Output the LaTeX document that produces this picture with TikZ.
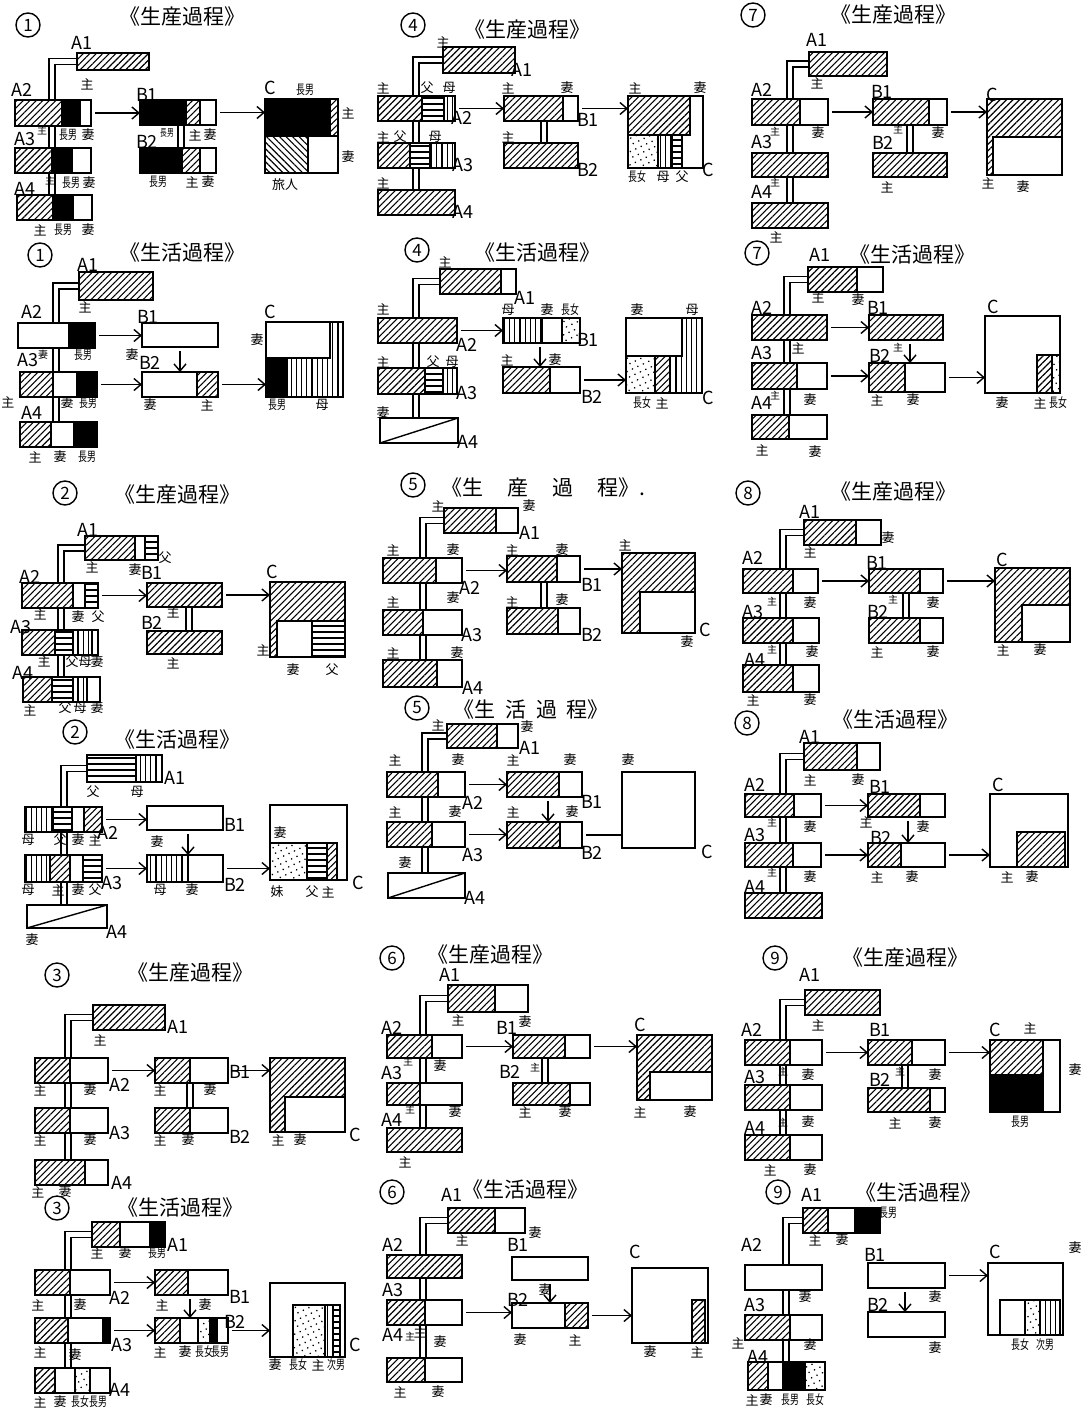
\documentclass[tikz,border=0pt]{standalone}
\usepackage{fontspec}
\setmainfont{Noto Sans CJK JP}
\usepackage{graphicx}
\usetikzlibrary{arrows.meta,patterns.meta,fit,calc,backgrounds}

\newcounter{lab}
% one part of a bar, a bar outline, a label
\newcommand\sg[5]{\path[#5] (#1,#2) rectangle (#3,#4);}
\newcommand\bx[5]{\node[bx, fit={(#2,#3) (#4,#5)}] (#1) {};}
\newcommand\lb[4][lb]{\stepcounter{lab}\node[#1] (t\arabic{lab}) at (#2,#3) {#4};}
\newcommand\tw[1]{\scalebox{0.68}[1]{#1}}
% connectors
\newcommand\ah[2]{\draw[ar] (#1.east) -- (#1.east -| #2.west);}
\newcommand\av[3]{\draw[ar] ($(#1.south west)+(#3,0)$) -- ($(#2.north west)+(#3,0)$);}
\newcommand\dv[3]{\draw[dbl] ($(#1.south west)+(#3,0)$) -- ($(#2.north west)+(#3,0)$);}
\newcommand\dl[3]{\draw[dbl] (#1.west) -| ($(#2.north west)+(#3,0)$);}

\begin{document}
\begin{tikzpicture}[
  x=0.5pt, y=-0.5pt,
  bx/.style={draw, line width=0.9pt, inner sep=0pt, outer sep=0pt},
  ht/.style={draw, line width=0.8pt, preaction={fill=white}, pattern={Lines[angle=45,distance=2.3pt,line width=0.55pt]}},
  hn/.style={draw, line width=0.8pt, preaction={fill=white}, pattern={Lines[angle=-45,distance=2.3pt,line width=0.55pt]}},
  hl/.style={draw, line width=0.8pt, preaction={fill=white}, pattern={Lines[angle=0,distance=3pt,line width=0.55pt]}},
  vl/.style={draw, line width=0.8pt, preaction={fill=white}, pattern={Lines[angle=90,distance=2.6pt,line width=0.55pt]}},
  dt/.style={draw, line width=0.8pt, preaction={fill=white}, pattern={Dots[radius=0.45pt,distance=3pt,angle=25]}},
  bk/.style={draw, line width=0.8pt, fill=black},
  wt/.style={draw, line width=0.8pt, fill=white},
  lb/.style={inner sep=0pt, font=\fontsize{6.5}{7}\selectfont},
  ls/.style={inner sep=0pt, font=\fontsize{5}{5}\selectfont},
  nm/.style={inner sep=0pt, font=\fontsize{9}{9}\selectfont},
  tt/.style={inner sep=0pt, font=\fontsize{10.5}{11}\selectfont},
  cn/.style={draw, circle, line width=0.7pt, minimum size=12pt, inner sep=0pt, font=\fontsize{8.5}{9}\selectfont},
  dbl/.style={double, double distance=2.4pt, line width=0.6pt},
  ar/.style={-{Straight Barb[length=3.5pt,width=6pt]}, line width=0.7pt, shorten <=2pt},
  dg/.style={line width=0.7pt},
]
\useasboundingbox (0,0) rectangle (1091,1412);

% ---- (1) production
\node[cn] (p1n) at (28,25) {1};
\node[tt] (p1t) at (182,17) {《生産過程》};
\sg{77}{53}{149}{70}{ht} \bx{p1a1}{77}{53}{149}{70}
\sg{15}{100}{62}{126}{ht} \sg{62}{100}{80}{126}{bk} \sg{80}{100}{91}{126}{wt} \bx{p1a2}{15}{100}{91}{126}
\sg{15}{148}{52}{173}{ht} \sg{52}{148}{72}{173}{bk} \sg{72}{148}{91}{173}{wt} \bx{p1a3}{15}{148}{91}{173}
\sg{17}{195}{53}{220}{ht} \sg{53}{195}{73}{220}{bk} \sg{73}{195}{92}{220}{wt} \bx{p1a4}{17}{195}{92}{220}
\sg{140}{100}{186}{125}{bk} \sg{186}{100}{200}{125}{ht} \sg{200}{100}{216}{125}{wt} \bx{p1b1}{140}{100}{216}{125}
\sg{140}{148}{182}{173}{bk} \sg{182}{148}{200}{173}{ht} \sg{200}{148}{216}{173}{wt} \bx{p1b2}{140}{148}{216}{173}
\sg{265}{99}{330}{136}{bk} \sg{330}{99}{338}{136}{ht} \sg{265}{136}{308}{173}{hn} \sg{308}{136}{338}{173}{wt} \bx{p1c}{265}{99}{338}{173}
\lb[nm]{82}{43}{A1} \lb{87}{84}{主} \lb[nm]{22}{90}{A2} \lb[ls]{42}{131}{主} \lb{68}{135}{\tw{長男}} \lb{88}{135}{妻}
\lb[nm]{25}{139}{A3} \lb[ls]{50}{181}{主} \lb{71}{183}{\tw{長男}} \lb{89}{183}{妻} \lb[nm]{25}{189}{A4}
\lb{40}{230}{主} \lb{63}{230}{\tw{長男}} \lb{88}{230}{妻}
\lb[nm]{147}{95}{B1} \lb[nm]{147}{142}{B2} \lb[ls]{167}{133}{\tw{長男}} \lb{195}{135}{主} \lb{210}{135}{妻}
\lb{158}{182}{\tw{長男}} \lb{192}{182}{主} \lb{208}{182}{妻}
\lb[nm]{270}{88}{C} \lb{305}{90}{\tw{長男}} \lb{348}{113}{主} \lb{348}{157}{妻} \lb{285}{185}{旅人}
\ah{p1a2}{p1b1} \ah{p1b1}{p1c}

% ---- (1) living
\node[cn] (q1n) at (40,255) {1};
\node[tt] (q1t) at (182,253) {《生活過程》};
\sg{79}{272}{153}{300}{ht} \bx{q1a1}{79}{272}{153}{300}
\sg{18}{323}{69}{348}{wt} \sg{69}{323}{95}{348}{bk} \bx{q1a2}{18}{323}{95}{348}
\sg{20}{372}{53}{397}{ht} \sg{53}{372}{77}{397}{wt} \sg{77}{372}{97}{397}{bk} \bx{q1a3}{20}{372}{97}{397}
\sg{20}{422}{51}{447}{ht} \sg{51}{422}{74}{447}{wt} \sg{74}{422}{97}{447}{bk} \bx{q1a4}{20}{422}{97}{447}
\sg{142}{323}{218}{347}{wt} \bx{q1b1}{142}{323}{218}{347}
\sg{142}{372}{197}{397}{wt} \sg{197}{372}{218}{397}{ht} \bx{q1b2}{142}{372}{218}{397}
\sg{266}{322}{343}{397}{vl} \sg{266}{322}{330}{358}{wt} \sg{266}{358}{287}{397}{bk} \bx{q1c}{266}{322}{343}{397}
\lb[nm]{88}{265}{A1} \lb{85}{307}{主} \lb[nm]{32}{312}{A2} \lb{83}{355}{\tw{長男}} \lb[nm]{28}{360}{A3} \lb[ls]{43}{355}{妻}
\lb{8}{402}{主} \lb{67}{403}{妻} \lb{88}{403}{\tw{長男}} \lb[nm]{32}{413}{A4}
\lb{35}{457}{主} \lb{60}{457}{妻} \lb{87}{457}{\tw{長男}}
\lb[nm]{148}{317}{B1} \lb{132}{355}{妻} \lb[nm]{150}{363}{B2} \lb{150}{405}{妻} \lb{207}{405}{主}
\lb[nm]{270}{312}{C} \lb{257}{340}{妻} \lb{277}{405}{\tw{長男}} \lb{322}{405}{母}
\ah{q1a2}{q1b1} \av{q1b1}{q1b2}{38} \ah{q1a3}{q1b2} \ah{q1b2}{q1c}

% ---- (4) production
\node[cn] (p4n) at (413,25) {4};
\node[tt] (p4t) at (527,30) {《生産過程》};
\sg{443}{47}{515}{73}{ht} \bx{p4a1}{443}{47}{515}{73}
\sg{378}{96}{422}{121}{ht} \sg{422}{96}{444}{121}{hl} \sg{444}{96}{455}{121}{vl} \bx{p4a2}{378}{96}{455}{121}
\sg{378}{143}{410}{168}{ht} \sg{410}{143}{430}{168}{hl} \sg{430}{143}{455}{168}{vl} \bx{p4a3}{378}{143}{455}{168}
\sg{378}{190}{455}{215}{ht} \bx{p4a4}{378}{190}{455}{215}
\sg{504}{96}{563}{121}{ht} \sg{563}{96}{578}{121}{wt} \bx{p4b1}{504}{96}{578}{121}
\sg{504}{143}{578}{168}{ht} \bx{p4b2}{504}{143}{578}{168}
\sg{628}{96}{703}{168}{wt} \sg{628}{96}{690}{135}{ht} \sg{628}{135}{658}{168}{dt} \sg{658}{135}{672}{168}{vl} \sg{672}{135}{682}{168}{hl} \bx{p4c}{628}{96}{703}{168}
\lb{443}{42}{主} \lb[nm]{522}{70}{A1} \lb{383}{88}{主} \lb{427}{88}{父} \lb{449}{88}{母} \lb[nm]{462}{118}{A2}
\lb{383}{137}{主} \lb{400}{137}{父} \lb{435}{137}{母} \lb[nm]{463}{165}{A3} \lb{383}{183}{主} \lb[nm]{463}{212}{A4}
\lb{508}{88}{主} \lb{567}{88}{妻} \lb[nm]{588}{120}{B1} \lb{508}{137}{主} \lb[nm]{588}{170}{B2}
\lb{635}{88}{主} \lb{700}{88}{妻} \lb[nm]{708}{170}{C} \lb{637}{177}{\tw{長女}} \lb{663}{177}{母} \lb{682}{177}{父}
\ah{p4a2}{p4b1} \ah{p4b1}{p4c}

% ---- (4) living
\node[cn] (q4n) at (417,250) {4};
\node[tt] (q4t) at (537,253) {《生活過程》};
\sg{440}{269}{501}{294}{ht} \sg{501}{269}{516}{294}{wt} \bx{q4a1}{440}{269}{516}{294}
\sg{378}{318}{457}{343}{ht} \bx{q4a2}{378}{318}{457}{343}
\sg{378}{368}{425}{394}{ht} \sg{425}{368}{443}{394}{hl} \sg{443}{368}{457}{394}{vl} \bx{q4a3}{378}{368}{457}{394}
\sg{380}{418}{458}{443}{wt} \bx{q4a4}{380}{418}{458}{443}
\draw[dg] (q4a4.south west) -- (q4a4.north east);
\sg{503}{318}{542}{343}{vl} \sg{542}{318}{562}{343}{wt} \sg{562}{318}{580}{343}{dt} \bx{q4b1}{503}{318}{580}{343}
\sg{503}{367}{550}{393}{ht} \sg{550}{367}{580}{393}{wt} \bx{q4b2}{503}{367}{580}{393}
\sg{626}{318}{702}{393}{vl} \sg{626}{318}{682}{356}{wt} \sg{626}{356}{655}{393}{dt} \sg{655}{356}{670}{393}{ht} \bx{q4c}{626}{318}{702}{393}
\lb{445}{262}{主} \lb[nm]{525}{298}{A1} \lb{383}{309}{主} \lb[nm]{467}{345}{A2}
\lb{508}{310}{母} \lb{547}{310}{妻} \lb{570}{310}{\tw{長女}} \lb[nm]{588}{340}{B1} \lb{507}{360}{主} \lb{555}{360}{妻} \lb[nm]{592}{397}{B2}
\lb{383}{362}{主} \lb{433}{362}{父} \lb{452}{362}{母} \lb[nm]{467}{393}{A3} \lb{383}{413}{妻} \lb[nm]{468}{442}{A4}
\lb{637}{310}{妻} \lb{692}{310}{母} \lb[nm]{708}{398}{C} \lb{642}{403}{\tw{長女}} \lb{662}{403}{主}
\ah{q4a2}{q4b1} \av{q4b1}{q4b2}{37} \ah{q4b2}{q4c}

% ---- (7) production
\node[cn] (p7n) at (753,15) {7};
\node[tt] (p7t) at (893,15) {《生産過程》};
\sg{809}{52}{887}{76}{ht} \bx{p7a1}{809}{52}{887}{76}
\sg{752}{99}{800}{125}{ht} \sg{800}{99}{828}{125}{wt} \bx{p7a2}{752}{99}{828}{125}
\sg{752}{153}{828}{177}{ht} \bx{p7a3}{752}{153}{828}{177}
\sg{752}{203}{828}{228}{ht} \bx{p7a4}{752}{203}{828}{228}
\sg{873}{99}{929}{125}{ht} \sg{929}{99}{947}{125}{wt} \bx{p7b1}{873}{99}{947}{125}
\sg{873}{153}{947}{177}{ht} \bx{p7b2}{873}{153}{947}{177}
\sg{987}{99}{1062}{175}{ht} \sg{993}{137}{1062}{175}{wt} \bx{p7c}{987}{99}{1062}{175}
\lb[nm]{817}{40}{A1} \lb{817}{83}{主} \lb[nm]{762}{90}{A2} \lb[ls]{775}{132}{主} \lb{818}{133}{妻} \lb[nm]{762}{142}{A3}
\lb[ls]{775}{183}{主} \lb[nm]{762}{192}{A4} \lb{776}{237}{主}
\lb[nm]{882}{92}{B1} \lb[ls]{898}{130}{主} \lb{938}{133}{妻} \lb[nm]{883}{143}{B2} \lb{887}{187}{主}
\lb[nm]{992}{95}{C} \lb{988}{183}{主} \lb{1023}{187}{妻}
\ah{p7a2}{p7b1} \ah{p7b1}{p7c}

% ---- (7) living
\node[cn] (q7n) at (757,253) {7};
\node[tt] (q7t) at (912,255) {《生活過程》};
\sg{808}{267}{857}{292}{ht} \sg{857}{267}{883}{292}{wt} \bx{q7a1}{808}{267}{883}{292}
\sg{752}{315}{827}{340}{ht} \bx{q7a2}{752}{315}{827}{340}
\sg{752}{363}{797}{389}{ht} \sg{797}{363}{827}{389}{wt} \bx{q7a3}{752}{363}{827}{389}
\sg{752}{415}{789}{439}{ht} \sg{789}{415}{827}{439}{wt} \bx{q7a4}{752}{415}{827}{439}
\sg{869}{315}{943}{340}{ht} \bx{q7b1}{869}{315}{943}{340}
\sg{869}{363}{905}{392}{ht} \sg{905}{363}{945}{392}{wt} \bx{q7b2}{869}{363}{945}{392}
\sg{985}{316}{1060}{393}{wt} \sg{1037}{355}{1052}{393}{ht} \sg{1052}{355}{1060}{393}{dt} \bx{q7c}{985}{316}{1060}{393}
\lb[nm]{820}{255}{A1} \lb{818}{297}{主} \lb{858}{300}{妻} \lb[nm]{762}{308}{A2}
\lb[nm]{762}{353}{A3} \lb{798}{348}{主} \lb[nm]{762}{403}{A4} \lb[ls]{775}{396}{主} \lb{810}{400}{妻} \lb{762}{450}{主} \lb{815}{452}{妻}
\lb[nm]{878}{308}{B1} \lb[nm]{880}{356}{B2} \lb[ls]{898}{348}{主} \lb{877}{400}{主} \lb{913}{400}{妻}
\lb[nm]{993}{307}{C} \lb{1002}{403}{妻} \lb{1040}{403}{主} \lb{1058}{403}{\tw{長女}}
\ah{q7a2}{q7b1} \av{q7b1}{q7b2}{41} \ah{q7a3}{q7b2} \ah{q7b2}{q7c}

% ---- (2) production
\node[cn] (p2n) at (65,493) {2};
\node[tt] (p2t) at (177,495) {《生産過程》};
\sg{85}{536}{135}{560}{ht} \sg{135}{536}{145}{560}{wt} \sg{145}{536}{158}{560}{hl} \bx{p2a1}{85}{536}{158}{560}
\sg{22}{583}{73}{608}{ht} \sg{73}{583}{85}{608}{wt} \sg{85}{583}{98}{608}{hl} \bx{p2a2}{22}{583}{98}{608}
\sg{22}{630}{55}{655}{ht} \sg{55}{630}{73}{655}{hl} \sg{73}{630}{92}{655}{vl} \sg{92}{630}{98}{655}{wt} \bx{p2a3}{22}{630}{98}{655}
\sg{23}{677}{52}{702}{ht} \sg{52}{677}{73}{702}{hl} \sg{73}{677}{87}{702}{vl} \sg{87}{677}{100}{702}{wt} \bx{p2a4}{23}{677}{100}{702}
\sg{147}{583}{222}{607}{ht} \bx{p2b1}{147}{583}{222}{607}
\sg{147}{631}{222}{654}{ht} \bx{p2b2}{147}{631}{222}{654}
\sg{270}{582}{345}{657}{ht} \sg{277}{621}{312}{657}{wt} \sg{312}{621}{345}{657}{hl} \bx{p2c}{270}{582}{345}{657}
\lb[nm]{88}{530}{A1} \lb{92}{567}{主} \lb{135}{570}{妻} \lb{165}{558}{父} \lb[nm]{30}{577}{A2}
\lb{40}{614}{主} \lb{78}{617}{妻} \lb{98}{617}{父} \lb[nm]{21}{627}{A3}
\lb{44}{661}{主} \lb{72}{662}{父} \lb{85}{662}{母} \lb{97}{662}{妻} \lb[nm]{23}{673}{A4}
\lb{30}{710}{主} \lb{65}{708}{父} \lb{80}{708}{母} \lb{97}{708}{妻}
\lb[nm]{152}{573}{B1} \lb[nm]{152}{623}{B2} \lb{173}{612}{主} \lb{173}{663}{主}
\lb[nm]{272}{572}{C} \lb{263}{650}{主} \lb{293}{670}{妻} \lb{332}{670}{父}
\ah{p2a2}{p2b1} \ah{p2b1}{p2c}

% ---- (2) living
\node[cn] (q2n) at (75,732) {2};
\node[tt] (q2t) at (177,740) {《生活過程》};
\sg{87}{755}{136}{782}{hl} \sg{136}{755}{162}{782}{vl} \bx{q2a1}{87}{755}{162}{782}
\sg{25}{807}{53}{832}{vl} \sg{53}{807}{72}{832}{hl} \sg{72}{807}{84}{832}{wt} \sg{84}{807}{102}{832}{ht} \bx{q2a2}{25}{807}{102}{832}
\sg{25}{855}{50}{882}{vl} \sg{50}{855}{70}{882}{ht} \sg{70}{855}{83}{882}{wt} \sg{83}{855}{102}{882}{hl} \bx{q2a3}{25}{855}{102}{882}
\sg{27}{905}{107}{928}{wt} \bx{q2a4}{27}{905}{107}{928}
\draw[dg] (q2a4.south west) -- (q2a4.north east);
\sg{147}{806}{223}{830}{wt} \bx{q2b1}{147}{806}{223}{830}
\sg{147}{855}{188}{882}{vl} \sg{188}{855}{223}{882}{wt} \bx{q2b2}{147}{855}{223}{882}
\sg{270}{805}{347}{880}{wt} \sg{270}{843}{307}{880}{dt} \sg{307}{843}{327}{880}{hl} \sg{327}{843}{337}{880}{ht} \bx{q2c}{270}{805}{347}{880}
\lb[nm]{175}{778}{A1} \lb{93}{792}{父} \lb{137}{792}{母} \lb[nm]{108}{833}{A2}
\lb{28}{840}{母} \lb{60}{840}{父} \lb{78}{840}{妻} \lb{95}{840}{主} \lb[nm]{112}{883}{A3}
\lb{28}{890}{母} \lb{58}{890}{主} \lb{78}{890}{妻} \lb{95}{890}{父} \lb[nm]{117}{932}{A4} \lb{32}{940}{妻}
\lb[nm]{235}{825}{B1} \lb{157}{842}{妻} \lb[nm]{235}{885}{B2} \lb{160}{890}{母} \lb{192}{890}{妻}
\lb{280}{833}{妻} \lb[nm]{358}{883}{C} \lb{277}{892}{妹} \lb{312}{892}{父} \lb{328}{892}{主}
\ah{q2a2}{q2b1} \av{q2b1}{q2b2}{41} \ah{q2a3}{q2b2} \ah{q2b2}{q2c}

% ---- (5) production
\node[cn] (p5n) at (413,485) {5};
\node[tt] (p5t) at (543,488) {《生\hspace{12pt}産\hspace{12pt}過\hspace{12pt}程》.};
\sg{444}{508}{496}{533}{ht} \sg{496}{508}{518}{533}{wt} \bx{p5a1}{444}{508}{518}{533}
\sg{383}{558}{436}{583}{ht} \sg{436}{558}{462}{583}{wt} \bx{p5a2}{383}{558}{462}{583}
\sg{383}{610}{423}{635}{ht} \sg{423}{610}{462}{635}{wt} \bx{p5a3}{383}{610}{462}{635}
\sg{383}{660}{437}{687}{ht} \sg{437}{660}{462}{687}{wt} \bx{p5a4}{383}{660}{462}{687}
\sg{507}{556}{557}{582}{ht} \sg{557}{556}{580}{582}{wt} \bx{p5b1}{507}{556}{580}{582}
\sg{507}{608}{558}{634}{ht} \sg{558}{608}{580}{634}{wt} \bx{p5b2}{507}{608}{580}{634}
\sg{622}{553}{695}{633}{ht} \sg{640}{592}{695}{633}{wt} \bx{p5c}{622}{553}{695}{633}
\lb{438}{506}{主} \lb{529}{506}{妻} \lb[nm]{530}{533}{A1} \lb{393}{550}{主} \lb{453}{550}{妻} \lb[nm]{470}{588}{A2}
\lb{393}{602}{主} \lb{453}{598}{妻} \lb[nm]{472}{635}{A3} \lb{393}{653}{主} \lb{457}{653}{妻} \lb[nm]{473}{688}{A4}
\lb{512}{550}{主} \lb{562}{550}{妻} \lb[nm]{592}{585}{B1} \lb{512}{602}{主} \lb{562}{600}{妻} \lb[nm]{592}{635}{B2}
\lb{625}{545}{主} \lb[nm]{705}{630}{C} \lb{687}{642}{妻}
\ah{p5a2}{p5b1} \ah{p5b1}{p5c}

% ---- (5) living
\node[cn] (q5n) at (417,708) {5};
\node[tt] (q5t) at (531,710) {《生\hspace{5pt}活\hspace{5pt}過\hspace{5pt}程》};
\sg{447}{724}{497}{748}{ht} \sg{497}{724}{518}{748}{wt} \bx{q5a1}{447}{724}{518}{748}
\sg{387}{772}{438}{797}{ht} \sg{438}{772}{465}{797}{wt} \bx{q5a2}{387}{772}{465}{797}
\sg{387}{822}{432}{847}{ht} \sg{432}{822}{465}{847}{wt} \bx{q5a3}{387}{822}{465}{847}
\sg{388}{873}{465}{898}{wt} \bx{q5a4}{388}{873}{465}{898}
\draw[dg] (q5a4.south west) -- (q5a4.north east);
\sg{507}{772}{559}{797}{ht} \sg{559}{772}{582}{797}{wt} \bx{q5b1}{507}{772}{582}{797}
\sg{507}{822}{560}{848}{ht} \sg{560}{822}{582}{848}{wt} \bx{q5b2}{507}{822}{582}{848}
\sg{622}{772}{695}{848}{wt} \bx{q5c}{622}{772}{695}{848}
\lb{438}{725}{主} \lb{527}{727}{妻} \lb[nm]{530}{748}{A1} \lb{395}{760}{主} \lb{458}{760}{妻} \lb[nm]{473}{803}{A2}
\lb{395}{812}{主} \lb{455}{812}{妻} \lb[nm]{473}{855}{A3} \lb{405}{863}{妻} \lb[nm]{475}{898}{A4}
\lb{513}{760}{主} \lb{570}{760}{妻} \lb[nm]{592}{802}{B1} \lb{513}{812}{主} \lb{572}{812}{妻} \lb[nm]{592}{853}{B2}
\lb{628}{760}{妻} \lb[nm]{707}{852}{C}
\ah{q5a2}{q5b1} \av{q5b1}{q5b2}{41} \ah{q5a3}{q5b2}
\draw[line width=0.7pt, shorten <=2pt] (q5b2.east) -- (q5b2.east -| q5c.west);

% ---- (8) production
\node[cn] (p8n) at (748,493) {8};
\node[tt] (p8t) at (893,492) {《生産過程》};
\sg{804}{520}{856}{545}{ht} \sg{856}{520}{881}{545}{wt} \bx{p8a1}{804}{520}{881}{545}
\sg{743}{569}{793}{593}{ht} \sg{793}{569}{818}{593}{wt} \bx{p8a2}{743}{569}{818}{593}
\sg{743}{618}{793}{643}{ht} \sg{793}{618}{819}{643}{wt} \bx{p8a3}{743}{618}{819}{643}
\sg{743}{665}{793}{692}{ht} \sg{793}{665}{819}{692}{wt} \bx{p8a4}{743}{665}{819}{692}
\sg{869}{569}{920}{593}{ht} \sg{920}{569}{943}{593}{wt} \bx{p8b1}{869}{569}{943}{593}
\sg{869}{618}{920}{643}{ht} \sg{920}{618}{943}{643}{wt} \bx{p8b2}{869}{618}{943}{643}
\sg{995}{568}{1070}{642}{ht} \sg{1022}{605}{1070}{642}{wt} \bx{p8c}{995}{568}{1070}{642}
\lb[nm]{810}{512}{A1} \lb{810}{552}{主} \lb{888}{538}{妻} \lb[nm]{753}{558}{A2} \lb[ls]{772}{602}{主} \lb{810}{603}{妻}
\lb[nm]{753}{612}{A3} \lb[ls]{772}{650}{主} \lb{812}{652}{妻} \lb[nm]{755}{660}{A4} \lb{753}{700}{主} \lb{810}{700}{妻}
\lb[nm]{877}{563}{B1} \lb[ls]{893}{600}{主} \lb{933}{603}{妻} \lb[nm]{878}{612}{B2} \lb{877}{652}{主} \lb{933}{652}{妻}
\lb[nm]{1002}{560}{C} \lb{1003}{650}{主} \lb{1040}{650}{妻}
\ah{p8a2}{p8b1} \ah{p8b1}{p8c}

% ---- (8) living
\node[cn] (q8n) at (747,723) {8};
\node[tt] (q8t) at (895,720) {《生活過程》};
\sg{804}{743}{857}{770}{ht} \sg{857}{743}{880}{770}{wt} \bx{q8a1}{804}{743}{880}{770}
\sg{745}{794}{794}{817}{ht} \sg{794}{794}{821}{817}{wt} \bx{q8a2}{745}{794}{821}{817}
\sg{745}{843}{793}{867}{ht} \sg{793}{843}{821}{867}{wt} \bx{q8a3}{745}{843}{821}{867}
\sg{745}{893}{822}{918}{ht} \bx{q8a4}{745}{893}{822}{918}
\sg{868}{794}{920}{817}{ht} \sg{920}{794}{945}{817}{wt} \bx{q8b1}{868}{794}{945}{817}
\sg{868}{843}{901}{867}{ht} \sg{901}{843}{945}{867}{wt} \bx{q8b2}{868}{843}{945}{867}
\sg{990}{794}{1068}{867}{wt} \sg{1017}{832}{1065}{867}{ht} \bx{q8c}{990}{794}{1068}{867}
\lb[nm]{810}{737}{A1} \lb{810}{780}{主} \lb{858}{780}{妻} \lb[nm]{755}{785}{A2} \lb[ls]{772}{823}{主} \lb{810}{827}{妻}
\lb[nm]{755}{835}{A3} \lb[ls]{772}{873}{主} \lb{810}{877}{妻} \lb[nm]{755}{887}{A4}
\lb[nm]{880}{787}{B1} \lb{866}{822}{主} \lb{923}{827}{妻} \lb[nm]{881}{838}{B2} \lb{877}{877}{主} \lb{912}{877}{妻}
\lb[nm]{998}{785}{C} \lb{1007}{877}{主} \lb{1032}{877}{妻}
\ah{q8a2}{q8b1} \av{q8b1}{q8b2}{40} \ah{q8a3}{q8b2} \ah{q8b2}{q8c}

% ---- (3) production
\node[cn] (p3n) at (57,975) {3};
\node[tt] (p3t) at (190,973) {《生産過程》};
\sg{93}{1005}{165}{1030}{ht} \bx{p3a1}{93}{1005}{165}{1030}
\sg{35}{1058}{70}{1083}{ht} \sg{70}{1058}{108}{1083}{wt} \bx{p3a2}{35}{1058}{108}{1083}
\sg{35}{1108}{70}{1133}{ht} \sg{70}{1108}{108}{1133}{wt} \bx{p3a3}{35}{1108}{108}{1133}
\sg{35}{1160}{85}{1185}{ht} \sg{85}{1160}{108}{1185}{wt} \bx{p3a4}{35}{1160}{108}{1185}
\sg{155}{1058}{190}{1083}{ht} \sg{190}{1058}{228}{1083}{wt} \bx{p3b1}{155}{1058}{228}{1083}
\sg{155}{1108}{190}{1133}{ht} \sg{190}{1108}{228}{1133}{wt} \bx{p3b2}{155}{1108}{228}{1133}
\sg{270}{1058}{345}{1132}{ht} \sg{285}{1097}{345}{1132}{wt} \bx{p3c}{270}{1058}{345}{1132}
\lb[nm]{178}{1027}{A1} \lb{100}{1040}{主} \lb{40}{1090}{主} \lb{90}{1090}{妻} \lb[nm]{120}{1085}{A2}
\lb{40}{1140}{主} \lb{90}{1140}{妻} \lb[nm]{120}{1133}{A3} \lb{38}{1192}{主} \lb{65}{1192}{妻} \lb[nm]{122}{1183}{A4}
\lb{160}{1090}{主} \lb{210}{1090}{妻} \lb[nm]{240}{1072}{B1} \lb{160}{1140}{主} \lb{188}{1140}{妻} \lb[nm]{240}{1137}{B2}
\lb{278}{1140}{主} \lb{300}{1140}{妻} \lb[nm]{355}{1135}{C}
\ah{p3a2}{p3b1} \ah{p3b1}{p3c}

% ---- (3) living
\node[cn] (q3n) at (57,1208) {3};
\node[tt] (q3t) at (180,1208) {《生活過程》};
\sg{92}{1222}{120}{1247}{ht} \sg{120}{1222}{150}{1247}{wt} \sg{150}{1222}{165}{1247}{bk} \bx{q3a1}{92}{1222}{165}{1247}
\sg{35}{1270}{70}{1295}{ht} \sg{70}{1270}{110}{1295}{wt} \bx{q3a2}{35}{1270}{110}{1295}
\sg{35}{1318}{68}{1343}{ht} \sg{68}{1318}{103}{1343}{wt} \sg{103}{1318}{110}{1343}{bk} \bx{q3a3}{35}{1318}{110}{1343}
\sg{35}{1368}{55}{1393}{ht} \sg{55}{1368}{75}{1393}{wt} \sg{75}{1368}{90}{1393}{dt} \sg{90}{1368}{110}{1393}{wt} \bx{q3a4}{35}{1368}{110}{1393}
\sg{155}{1270}{188}{1295}{ht} \sg{188}{1270}{228}{1295}{wt} \bx{q3b1}{155}{1270}{228}{1295}
\sg{155}{1318}{180}{1343}{ht} \sg{180}{1318}{198}{1343}{wt} \sg{198}{1318}{210}{1343}{dt} \sg{210}{1318}{217}{1343}{bk} \sg{217}{1318}{228}{1343}{wt} \bx{q3b2}{155}{1318}{228}{1343}
\sg{270}{1283}{345}{1357}{wt} \sg{293}{1305}{325}{1357}{dt} \sg{325}{1305}{333}{1357}{vl} \sg{333}{1305}{340}{1357}{hl} \bx{q3c}{270}{1283}{345}{1357}
\lb[nm]{178}{1245}{A1} \lb{97}{1253}{主} \lb{125}{1253}{妻} \lb{157}{1253}{\tw{長男}}
\lb{38}{1305}{主} \lb{80}{1305}{妻} \lb[nm]{120}{1298}{A2} \lb{40}{1352}{主} \lb{75}{1355}{妻} \lb[nm]{122}{1345}{A3}
\lb[nm]{120}{1390}{A4} \lb{40}{1402}{主} \lb{60}{1402}{妻} \lb{80}{1402}{\tw{長女}} \lb{98}{1402}{\tw{長男}}
\lb{162}{1305}{主} \lb{205}{1305}{妻} \lb[nm]{240}{1297}{B1} \lb[nm]{235}{1322}{B2}
\lb{160}{1352}{主} \lb{185}{1352}{妻} \lb{204}{1352}{\tw{長女}} \lb{220}{1352}{\tw{長男}}
\lb{275}{1365}{妻} \lb{298}{1365}{\tw{長女}} \lb{318}{1365}{主} \lb{336}{1365}{\tw{次男}} \lb[nm]{355}{1345}{C}
\ah{q3a2}{q3b1} \av{q3b1}{q3b2}{35} \ah{q3a3}{q3b2} \ah{q3b2}{q3c}

% ---- (6) production
\node[cn] (p6n) at (392,958) {6};
\node[tt] (p6t) at (490,955) {《生産過程》};
\sg{448}{985}{495}{1012}{ht} \sg{495}{985}{528}{1012}{wt} \bx{p6a1}{448}{985}{528}{1012}
\sg{387}{1035}{432}{1058}{ht} \sg{432}{1035}{462}{1058}{wt} \bx{p6a2}{387}{1035}{462}{1058}
\sg{387}{1083}{420}{1105}{ht} \sg{420}{1083}{462}{1105}{wt} \bx{p6a3}{387}{1083}{462}{1105}
\sg{387}{1128}{462}{1152}{ht} \bx{p6a4}{387}{1128}{462}{1152}
\sg{513}{1035}{565}{1058}{ht} \sg{565}{1035}{590}{1058}{wt} \bx{p6b1}{513}{1035}{590}{1058}
\sg{513}{1083}{570}{1105}{ht} \sg{570}{1083}{590}{1105}{wt} \bx{p6b2}{513}{1083}{590}{1105}
\sg{637}{1035}{712}{1100}{ht} \sg{650}{1072}{712}{1100}{wt} \bx{p6c}{637}{1035}{712}{1100}
\lb[nm]{450}{975}{A1} \lb{458}{1020}{主} \lb[nm]{392}{1028}{A2} \lb[ls]{408}{1062}{主} \lb{440}{1066}{妻}
\lb[nm]{392}{1073}{A3} \lb[ls]{410}{1110}{主} \lb{455}{1112}{妻} \lb[nm]{392}{1120}{A4} \lb{405}{1162}{主}
\lb[nm]{507}{1028}{B1} \lb{525}{1022}{妻} \lb[nm]{510}{1072}{B2} \lb[ls]{535}{1068}{主} \lb{525}{1112}{主} \lb{565}{1112}{妻}
\lb[nm]{640}{1025}{C} \lb{640}{1112}{主} \lb{690}{1112}{妻}
\ah{p6a2}{p6b1} \ah{p6b1}{p6c}

% ---- (6) living
\node[cn] (q6n) at (392,1192) {6};
\node[tt] (q6t) at (525,1190) {《生活過程》};
\sg{448}{1208}{495}{1233}{ht} \sg{495}{1208}{525}{1233}{wt} \bx{q6a1}{448}{1208}{525}{1233}
\sg{387}{1255}{462}{1278}{ht} \bx{q6a2}{387}{1255}{462}{1278}
\sg{387}{1300}{425}{1325}{ht} \sg{425}{1300}{462}{1325}{wt} \bx{q6a3}{387}{1300}{462}{1325}
\sg{387}{1358}{425}{1382}{ht} \sg{425}{1358}{462}{1382}{wt} \bx{q6a4}{387}{1358}{462}{1382}
\sg{512}{1257}{588}{1280}{wt} \bx{q6b1}{512}{1257}{588}{1280}
\sg{512}{1303}{565}{1328}{wt} \sg{565}{1303}{588}{1328}{ht} \bx{q6b2}{512}{1303}{588}{1328}
\sg{632}{1268}{708}{1343}{wt} \sg{692}{1300}{705}{1343}{ht} \bx{q6c}{632}{1268}{708}{1343}
\lb[nm]{452}{1195}{A1} \lb{462}{1240}{主} \lb{535}{1233}{妻} \lb[nm]{393}{1245}{A2} \lb[nm]{393}{1290}{A3} \lb{420}{1332}{主}
\lb[nm]{393}{1335}{A4} \lb[ls]{410}{1337}{主} \lb{440}{1342}{妻} \lb{400}{1392}{主} \lb{438}{1392}{妻}
\lb[nm]{518}{1245}{B1} \lb{545}{1290}{妻} \lb[nm]{518}{1300}{B2} \lb{520}{1340}{妻} \lb{575}{1340}{主}
\lb[nm]{635}{1252}{C} \lb{650}{1352}{妻} \lb{697}{1352}{主}
\av{q6b1}{q6b2}{38} \ah{q6a3}{q6b2} \ah{q6b2}{q6c}

% ---- (9) production
\node[cn] (p9n) at (775,958) {9};
\node[tt] (p9t) at (905,958) {《生産過程》};
\sg{805}{990}{880}{1015}{ht} \bx{p9a1}{805}{990}{880}{1015}
\sg{745}{1040}{790}{1065}{ht} \sg{790}{1040}{822}{1065}{wt} \bx{p9a2}{745}{1040}{822}{1065}
\sg{745}{1085}{790}{1110}{ht} \sg{790}{1085}{822}{1110}{wt} \bx{p9a3}{745}{1085}{822}{1110}
\sg{745}{1135}{790}{1160}{ht} \sg{790}{1135}{822}{1160}{wt} \bx{p9a4}{745}{1135}{822}{1160}
\sg{868}{1040}{912}{1065}{ht} \sg{912}{1040}{945}{1065}{wt} \bx{p9b1}{868}{1040}{945}{1065}
\sg{868}{1088}{930}{1112}{ht} \sg{930}{1088}{945}{1112}{wt} \bx{p9b2}{868}{1088}{945}{1112}
\sg{990}{1040}{1060}{1112}{wt} \sg{990}{1040}{1043}{1075}{ht} \sg{990}{1075}{1043}{1112}{bk} \bx{p9c}{990}{1040}{1060}{1112}
\lb[nm]{810}{975}{A1} \lb{818}{1025}{主} \lb[nm]{752}{1030}{A2} \lb{808}{1075}{妻} \lb[nm]{755}{1077}{A3} \lb[ls]{783}{1072}{主}
\lb{808}{1122}{妻} \lb[nm]{755}{1128}{A4} \lb[ls]{783}{1123}{主} \lb{770}{1170}{主} \lb{810}{1170}{妻}
\lb[nm]{880}{1030}{B1} \lb[nm]{880}{1080}{B2} \lb[ls]{900}{1072}{主} \lb{935}{1075}{妻} \lb{895}{1123}{主} \lb{935}{1123}{妻}
\lb[nm]{995}{1030}{C} \lb{1030}{1028}{主} \lb{1075}{1070}{妻} \lb{1020}{1122}{\tw{長男}}
\ah{p9a2}{p9b1} \ah{p9b1}{p9c}

% ---- (9) living
\node[cn] (q9n) at (778,1192) {9};
\node[tt] (q9t) at (918,1193) {《生活過程》};
\sg{803}{1208}{828}{1233}{ht} \sg{828}{1208}{855}{1233}{wt} \sg{855}{1208}{880}{1233}{bk} \bx{q9a1}{803}{1208}{880}{1233}
\sg{745}{1265}{822}{1290}{wt} \bx{q9a2}{745}{1265}{822}{1290}
\sg{745}{1315}{790}{1340}{ht} \sg{790}{1315}{822}{1340}{wt} \bx{q9a3}{745}{1315}{822}{1340}
\sg{748}{1362}{768}{1390}{ht} \sg{768}{1362}{783}{1390}{wt} \sg{783}{1362}{805}{1390}{bk} \sg{805}{1362}{825}{1390}{dt} \bx{q9a4}{748}{1362}{825}{1390}
\sg{868}{1263}{945}{1288}{wt} \bx{q9b1}{868}{1263}{945}{1288}
\sg{868}{1312}{945}{1337}{wt} \bx{q9b2}{868}{1312}{945}{1337}
\sg{988}{1263}{1063}{1335}{wt} \sg{1000}{1300}{1025}{1335}{wt} \sg{1025}{1300}{1040}{1335}{dt} \sg{1040}{1300}{1060}{1335}{vl} \bx{q9c}{988}{1263}{1063}{1335}
\lb[nm]{812}{1195}{A1} \lb{815}{1240}{主} \lb{842}{1240}{妻} \lb{888}{1213}{\tw{長男}} \lb[nm]{752}{1245}{A2} \lb{805}{1297}{妻}
\lb[nm]{755}{1305}{A3} \lb{738}{1343}{主} \lb{810}{1345}{妻} \lb[nm]{758}{1357}{A4}
\lb{752}{1400}{主} \lb{766}{1400}{妻} \lb{790}{1400}{\tw{長男}} \lb{815}{1400}{\tw{長女}}
\lb[nm]{875}{1255}{B1} \lb{935}{1297}{妻} \lb[nm]{878}{1305}{B2} \lb{935}{1348}{妻}
\lb[nm]{995}{1252}{C} \lb{1075}{1248}{妻} \lb{1020}{1345}{\tw{長女}} \lb{1045}{1345}{\tw{次男}}
\av{q9b1}{q9b2}{37} \ah{q9b1}{q9c}

% ---- double connectors behind the bars
\begin{pgfonlayer}{background}
  \fill[white] (0,0) rectangle (1091,1412);
  \dl{p1a1}{p1a4}{35} \dv{p1b1}{p1b2}{41}
  \dl{q1a1}{q1a4}{36}
  \dl{p4a1}{p4a4}{38} \dv{p4b1}{p4b2}{40}
  \dl{q4a1}{q4a4}{36}
  \dl{p7a1}{p7a4}{38} \dv{p7b1}{p7b2}{37}
  \dl{q7a1}{q7a4}{35}
  \dl{p2a1}{p2a4}{38} \dv{p2b1}{p2b2}{42}
  \dl{q2a1}{q2a4}{37}
  \dl{p5a1}{p5a4}{40} \dv{p5b1}{p5b2}{37}
  \dl{q5a1}{q5a4}{37}
  \dl{p8a1}{p8a4}{40} \dv{p8b1}{p8b2}{37}
  \dl{q8a1}{q8a4}{38}
  \dl{p3a1}{p3a4}{33} \dv{p3b1}{p3b2}{35}
  \dl{q3a1}{q3a4}{33}
  \dl{p6a1}{p6a4}{36} \dv{p6b1}{p6b2}{32}
  \dl{q6a1}{q6a4}{36}
  \dl{p9a1}{p9a4}{38} \dv{p9b1}{p9b2}{37}
  \dl{q9a1}{q9a4}{38}
\end{pgfonlayer}
\end{tikzpicture}
\end{document}
